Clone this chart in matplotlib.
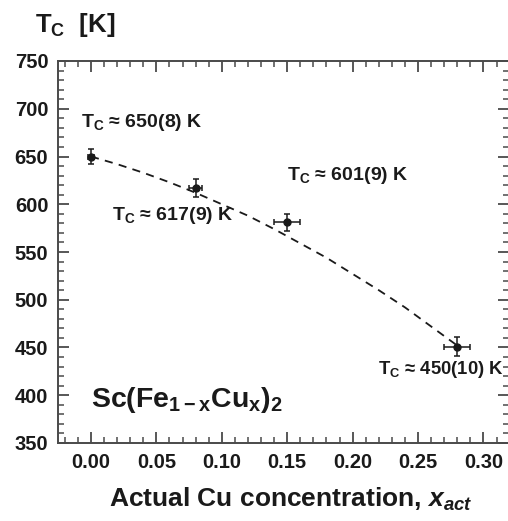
import numpy as np
import matplotlib
matplotlib.use("Agg")
import matplotlib.pyplot as plt
from matplotlib.ticker import MultipleLocator

# ---------------- data ----------------
x_act = [0.00, 0.08, 0.15, 0.28]
tc = [650, 617, 581, 451]
x_err = [0.002, 0.005, 0.010, 0.010]
tc_err = [8, 9, 9, 10]

# dashed guide curve
fit_x = [0.00, 0.02, 0.04, 0.06, 0.08, 0.10, 0.12, 0.14, 0.16, 0.18, 0.20, 0.22, 0.24, 0.26, 0.28]
fit_y = [650, 642, 633, 623, 612, 600, 588, 574, 559, 544, 527, 510, 492, 472, 452]

labels = ["650(8)", "617(9)", "601(9)", "450(10)"]
label_x = [-0.008, 0.016, 0.150, 0.219]
label_y = [681, 583, 625, 422]
label_size = [14, 14, 14, 13.3]

xticks = [0.00, 0.05, 0.10, 0.15, 0.20, 0.25, 0.30]
yticks = [350, 400, 450, 500, 550, 600, 650, 700, 750]

# ---------------- style ----------------
plt.rcParams['font.family'] = ['Liberation Sans', 'DejaVu Sans']
plt.rcParams['font.weight'] = 'bold'
plt.rcParams['mathtext.fontset'] = 'custom'
plt.rcParams['mathtext.rm'] = 'Liberation Sans:bold'
plt.rcParams['mathtext.bf'] = 'Liberation Sans:bold'
plt.rcParams['mathtext.it'] = 'Liberation Sans:bold:italic'
plt.rcParams['mathtext.sf'] = 'Liberation Sans:bold'

ink = '#1a1a1a'
spine_c = '#4a4a4a'

fig = plt.figure(figsize=(5.08, 5.21), dpi=100)
ax = fig.add_axes([58 / 508, 1 - 443 / 521, (509 - 58) / 508, (443 - 61) / 521])

ax.plot(fit_x, fit_y, color=ink, lw=1.3, dashes=(4.5, 3.5))
ax.errorbar(x_act, tc, xerr=x_err, yerr=tc_err, fmt='o', color=ink,
            ms=5, elinewidth=1.1, capsize=2.5, capthick=1.1)

for lx, ly, lab, fs in zip(label_x, label_y, labels, label_size):
    ax.text(lx, ly, r'T$_{\mathrm{C}}$' + ' \u2248 ' + lab + ' K', fontsize=fs,
            fontweight='bold', color=ink, va='baseline', ha='left', clip_on=False)

ax.text(0.0, 388, r'Sc(Fe$_{\mathrm{1-x}}$Cu$_{\mathrm{x}}$)$_{\mathrm{2}}$', fontsize=20.5,
        fontweight='bold', color=ink, va='baseline', ha='left')

ax.set_xlim(-0.0252, 0.3195)
ax.set_ylim(350, 750)
ax.set_xticks(xticks)
ax.set_yticks(yticks)
ax.xaxis.set_minor_locator(MultipleLocator(0.01))
ax.yaxis.set_minor_locator(MultipleLocator(10))
ax.xaxis.set_major_formatter(matplotlib.ticker.FormatStrFormatter('%.2f'))

ax.tick_params(which='both', direction='in', top=True, right=True, color=spine_c,
               labelsize=14.5, labelcolor=ink)
ax.tick_params(which='major', length=8, width=1.3, pad=7)
ax.tick_params(which='minor', length=4, width=1.1)
for lab in ax.get_xticklabels() + ax.get_yticklabels():
    lab.set_fontweight('bold')
for sp in ax.spines.values():
    sp.set_color(spine_c)
    sp.set_linewidth(1.4)

ax.set_xlabel(r'Actual Cu concentration, $x_{act}$', fontsize=19,
              fontweight='bold', color=ink, labelpad=10)
ax.xaxis.label.set_x(0.515)
fig.text(35 / 508, 1 - 32 / 521, r'T$_{\mathrm{C}}$  [K]', fontsize=18.5,
         fontweight='bold', color=ink, va='baseline', ha='left')

fig.savefig('out.png', dpi=100, facecolor='white')
